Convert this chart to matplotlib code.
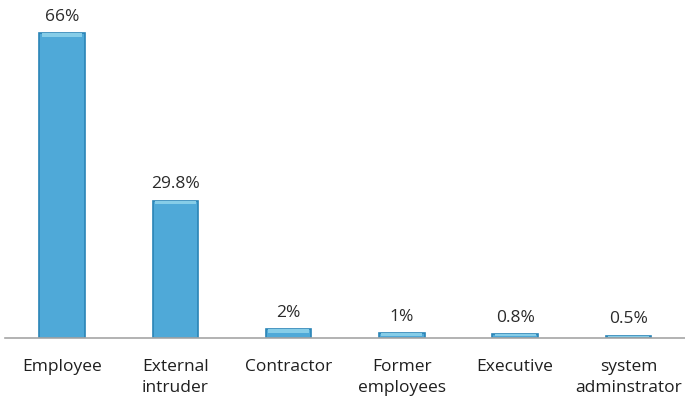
import matplotlib.pyplot as plt

categories = ['Employee', 'External\nintruder', 'Contractor', 'Former\nemployees', 'Executive', 'system\nadminstrator']
values = [66, 29.8, 2, 1, 0.8, 0.5]
labels = ['66%', '29.8%', '2%', '1%', '0.8%', '0.5%']

plt.rcParams['font.family'] = ['Open Sans', 'DejaVu Sans']

fig = plt.figure(figsize=(6.85, 4.03), dpi=100)
ax = fig.add_axes([0.008, 0.161, 0.992, 0.802])

x = range(len(categories))
bars = ax.bar(x, values, width=0.4, color='#4fa9d8', edgecolor='#2a84b6', linewidth=1.2)

# bevel highlight along the top of each bar
for b, v in zip(bars, values):
    h = min(v * 0.5, 0.8)
    ax.bar(b.get_x() + b.get_width() / 2, h, width=0.36, bottom=v - h,
           color='#86cde8', linewidth=0)

for i, (v, lab) in enumerate(zip(values, labels)):
    ax.annotate(lab, (i, v), xytext=(0, 6), textcoords='offset points',
                ha='center', va='bottom', fontsize=12.5, color='#2b2b2b')

ax.set_xlim(-0.5, len(categories) - 0.5)
ax.set_ylim(0, 70)
ax.set_xticks(list(x))
ax.set_xticklabels(categories, fontsize=12.5, color='#1f1f1f', linespacing=1.4)
ax.tick_params(axis='x', length=0, pad=15)
ax.set_yticks([])
for side in ['top', 'right', 'left']:
    ax.spines[side].set_visible(False)
ax.spines['bottom'].set_color('#a6a6a6')
ax.spines['bottom'].set_linewidth(1.2)

fig.savefig('out.png', dpi=100)
